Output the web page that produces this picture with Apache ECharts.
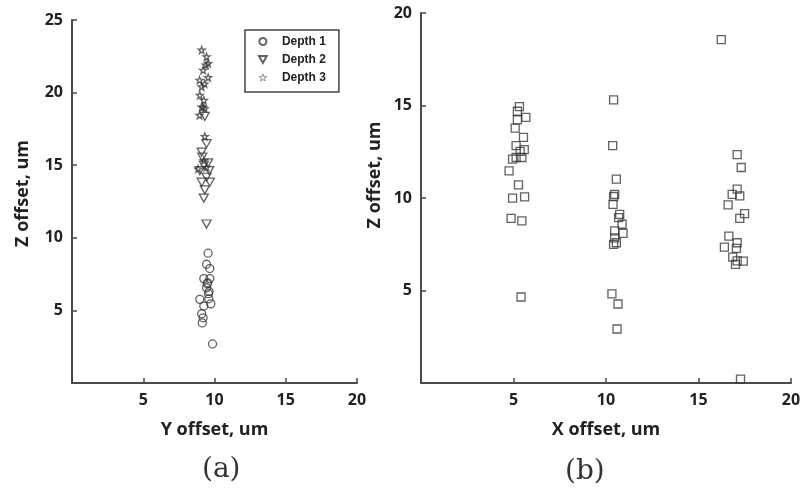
<!DOCTYPE html>
<html>
<head>
<meta charset="utf-8">
<script src="https://cdn.jsdelivr.net/npm/echarts@6/dist/echarts.min.js"></script>
<style>html,body{margin:0;padding:0;background:#fff}#c{width:807px;height:496px}</style>
</head>
<body>
<div id="c"></div>
<script>
// ---- data ----
const legendNames = ['Depth 1', 'Depth 2', 'Depth 3'];
const tickLabelsA_x = [5, 10, 15, 20];
const tickLabelsA_y = [5, 10, 15, 20, 25];
const tickLabelsB_x = [5, 10, 15, 20];
const tickLabelsB_y = [5, 10, 15, 20];
// panel (a): [Y offset, Z offset]
const depth1 = [[9.55,8.94],[9.44,8.18],[9.67,7.88],[9.25,7.19],[9.67,7.19],[9.49,6.84],[9.52,6.90],[9.44,6.56],[9.62,6.30],[9.58,6.15],[8.97,5.76],[9.60,5.80],[9.25,5.30],[9.74,5.45],[9.10,4.77],[9.20,4.49],[9.14,4.14],[9.86,2.69]];
const depth2 = [[9.44,10.95],[9.25,12.74],[9.32,13.30],[9.67,13.83],[9.10,13.83],[9.44,14.17],[8.97,14.63],[9.63,14.63],[9.25,15.00],[9.55,15.16],[9.14,15.55],[9.10,15.90],[9.44,16.48],[9.32,18.37]];
const depth3 = [[9.10,22.93],[9.44,22.47],[9.55,22.01],[9.40,21.90],[9.20,21.55],[9.55,21.04],[8.95,20.86],[9.30,20.60],[9.10,20.40],[8.97,19.82],[9.25,19.47],[9.10,19.01],[9.20,19.00],[9.32,18.90],[8.95,18.44],[9.32,16.98],[9.25,15.33],[9.44,14.86],[8.85,14.75]];
// panel (b): [X offset, Z offset]
const column1 = [[5.32,14.94],[5.21,14.69],[5.67,14.36],[5.21,14.22],[5.09,13.78],[5.54,13.28],[5.14,12.83],[5.58,12.61],[5.36,12.52],[4.95,12.10],[5.45,12.19],[5.14,12.19],[4.76,11.47],[5.27,10.71],[4.95,9.99],[5.60,10.06],[4.87,8.90],[5.45,8.76],[5.41,4.65]];
const column2 = [[10.41,15.30],[10.36,12.83],[10.56,11.02],[10.47,10.20],[10.41,10.08],[10.38,9.66],[10.74,9.12],[10.68,8.94],[10.87,8.58],[10.92,8.09],[10.47,8.22],[10.47,7.85],[10.56,7.58],[10.41,7.49],[10.32,4.82],[10.65,4.27],[10.60,2.92]];
const column3 = [[16.23,18.56],[17.09,12.34],[17.31,11.65],[17.09,10.48],[16.82,10.20],[17.23,10.11],[16.60,9.63],[17.49,9.16],[17.23,8.90],[16.64,7.94],[16.40,7.35],[17.09,7.58],[17.05,7.28],[16.85,6.80],[17.42,6.59],[17.00,6.41],[17.09,6.60],[17.27,0.21]];
const squares = column1.concat(column2, column3);

const STAR = 'path://M10,0 L12.351,6.764 L19.511,6.910 L13.804,11.236 L15.878,18.090 L10,14 L4.122,18.090 L6.196,11.236 L0.489,6.910 L7.649,6.764 Z';
const TRI_DOWN = 'path://M0,0 L10,0 L5,9 Z';

const axisColor = '#4a4a4a';
const markStroke = '#3a3a3a';
const labelFont = { fontFamily: 'Open Sans', fontWeight: 'bold', fontSize: 16, color: '#222' };
const nameFont = { fontFamily: 'Open Sans', fontWeight: 'bold', fontSize: 18, color: '#222' };

function mkAxis(gridIndex, max, ticks, name, gap, namePad) {
  return {
    type: 'value', gridIndex: gridIndex, min: 0, max: max, interval: 5,
    name: name, nameLocation: 'middle', nameGap: gap,
    nameTextStyle: Object.assign({ padding: namePad || 0 }, nameFont),
    splitLine: { show: false },
    axisLine: { show: true, lineStyle: { color: axisColor, width: 2 } },
    axisTick: { show: true, inside: true, length: 5, lineStyle: { color: axisColor, width: 1.5 } },
    axisLabel: Object.assign({ margin: 9, formatter: v => (ticks.indexOf(v) >= 0 ? String(v) : '') }, labelFont)
  };
}

const empty = { color: 'rgba(0,0,0,0)', borderColor: markStroke, borderWidth: 1.3 };

const option = {
  animation: false,
  backgroundColor: '#fff',
  grid: [
    { left: 72, top: 20, width: 285, height: 363 },
    { left: 421, top: 13, width: 370, height: 370 }
  ],
  xAxis: [
    mkAxis(0, 20, tickLabelsA_x, 'Y offset, um', 38),
    mkAxis(1, 20, tickLabelsB_x, 'X offset, um', 38)
  ],
  yAxis: [
    mkAxis(0, 25, tickLabelsA_y, 'Z offset, um', 40, [0, 0, 0, 16]),
    mkAxis(1, 20, tickLabelsB_y, 'Z offset, um', 37, [0, 0, 0, 46])
  ],
  legend: {
    data: [
      { name: legendNames[0] },
      { name: legendNames[1] },
      { name: legendNames[2], itemStyle: { color: 'rgba(0,0,0,0)', borderColor: '#555', borderWidth: 0.8 } }
    ],
    orient: 'vertical',
    left: 245, top: 30,
    padding: [5, 13, 8, 13],
    itemWidth: 28, itemHeight: 7, itemGap: 5,
    borderColor: '#444', borderWidth: 1.5, borderRadius: 0,
    textStyle: { fontFamily: 'Liberation Sans', fontWeight: 'bold', fontSize: 12, color: '#222', lineHeight: 13 }
  },
  graphic: [
    { type: 'text', left: 202, top: 456, style: { text: '(a)', font: '28px "DejaVu Serif"', fill: '#333' } },
    { type: 'text', left: 565, top: 458, style: { text: '(b)', font: '28px "DejaVu Serif"', fill: '#333' } }
  ],
  series: [
    { name: 'Depth 1', type: 'scatter', xAxisIndex: 0, yAxisIndex: 0, symbol: 'circle', symbolSize: 8, itemStyle: empty, data: depth1 },
    { name: 'Depth 2', type: 'scatter', xAxisIndex: 0, yAxisIndex: 0, symbol: TRI_DOWN, symbolSize: [9, 8], itemStyle: empty, data: depth2 },
    { name: 'Depth 3', type: 'scatter', xAxisIndex: 0, yAxisIndex: 0, symbol: STAR, symbolSize: 7, itemStyle: empty, data: depth3 },
    { name: 'X-Z', type: 'scatter', xAxisIndex: 1, yAxisIndex: 1, symbol: 'rect', symbolSize: 8, itemStyle: empty, data: squares }
  ]
};

const chart = echarts.init(document.getElementById('c'), null, { renderer: 'canvas' });
chart.setOption(option);
</script>
</body>
</html>
